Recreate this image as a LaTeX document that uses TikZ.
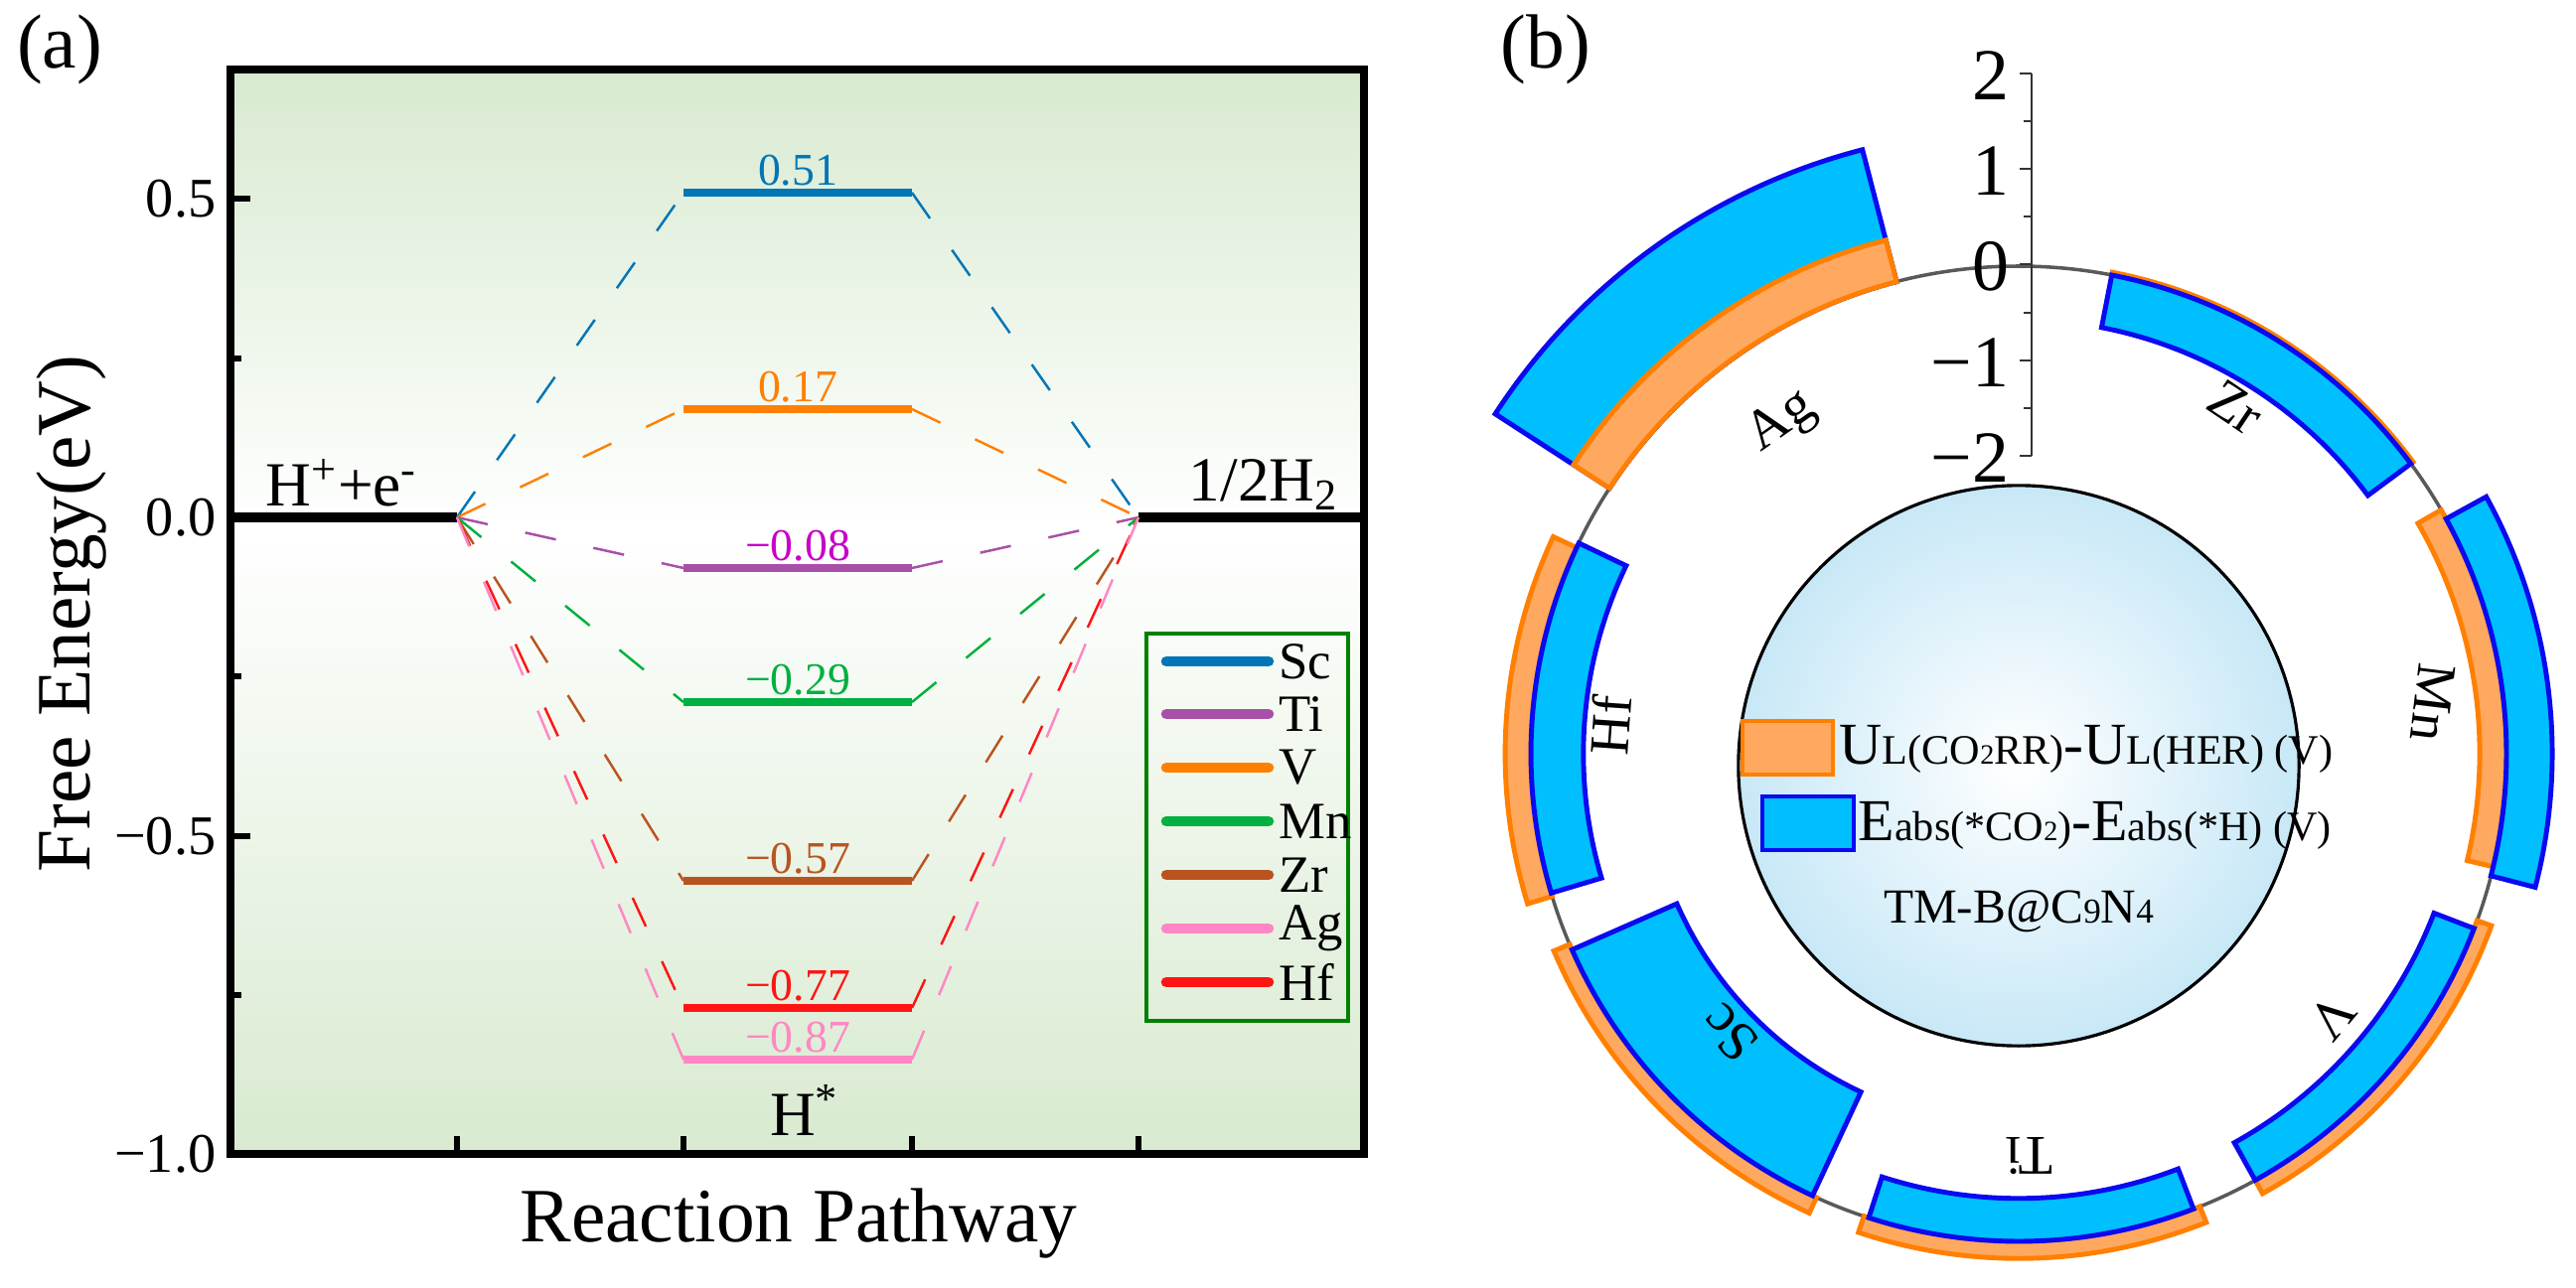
\documentclass[tikz,border=0pt]{standalone}
\usepackage{fontspec}
\setmainfont{Liberation Serif}
\usetikzlibrary{calc}
\definecolor{cSc}{RGB}{0,118,182}
\definecolor{cTi}{RGB}{168,80,168}
\definecolor{cTiL}{RGB}{200,0,200}
\definecolor{cV}{RGB}{255,128,0}
\definecolor{cMn}{RGB}{0,176,64}
\definecolor{cZr}{RGB}{185,84,32}
\definecolor{cAg}{RGB}{255,135,195}
\definecolor{cHf}{RGB}{255,20,20}
\definecolor{bgG}{RGB}{216,234,208}
\definecolor{blF}{RGB}{0,191,255}
\definecolor{blD}{RGB}{10,10,240}
\definecolor{orF}{RGB}{255,168,96}
\definecolor{orD}{RGB}{255,128,0}
\definecolor{ballB}{RGB}{200,232,247}
\newcommand\annsec[5]{%
  \pgfmathsetmacro\ra{491+96*(#4)}\pgfmathsetmacro\rb{491+96*(#5)}%
  \draw[#1] (#2:\ra) arc[start angle=#2,end angle=#3,radius=\ra] -- (#3:\rb) arc[start angle=#3,end angle=#2,radius=\rb] -- cycle;}
\begin{document}
\begin{tikzpicture}[x=0.01cm,y=-0.01cm,
  lvl/.style={line width=2.2pt},
  dsh/.style={line width=0.7pt,dash pattern=on 9pt off 11pt},
  vlab/.style={font=\fontsize{13}{13}\selectfont,anchor=south,inner sep=1pt},
  tlab/.style={font=\fontsize{16}{16}\selectfont,anchor=east,inner sep=2pt},
  leg/.style={font=\fontsize{15}{15}\selectfont,anchor=west,inner sep=1pt},
  legl/.style={line width=3pt,line cap=round},
  blue bar/.style={fill=blF,draw=blD,line width=1.4pt,line join=miter},
  orange bar/.style={fill=orF,draw=orD,line width=1.4pt,line join=miter},
  slab/.style={font=\fontsize{16}{16}\selectfont,inner sep=0pt},
  rtick/.style={font=\fontsize{21}{21}\selectfont,anchor=east,inner sep=2pt}]
\useasboundingbox (0,0) rectangle (2593,1297);
% ---------- panel (a) ----------
\shade[top color=bgG,bottom color=white] (232,70) rectangle (1373,535);
\shade[top color=white,bottom color=bgG] (232,535) rectangle (1373,1162);
\node[font=\fontsize{22}{22}\selectfont] (pa) at (60,50) {(a)};
% ticks
\foreach \yy in {200,521,842} \draw[line width=1.6pt] (232,\yy) -- (252,\yy);
\foreach \yy in {361,681,1002} \draw[line width=1.6pt] (232,\yy) -- (243,\yy);
\foreach \xx in {460,688,918,1146} \draw[line width=1.6pt] (\xx,1162) -- (\xx,1144);
\node[tlab] (t1) at (225,200) {0.5};
\node[tlab] (t2) at (225,521) {0.0};
\node[tlab] (t3) at (225,842) {−0.5};
\node[tlab] (t4) at (225,1162) {−1.0};
\node[rotate=90,font=\fontsize{22}{22}\selectfont] (yl) at (72,618) {Free Energy(eV)};
\node[font=\fontsize{22}{22}\selectfont] (xl) at (804,1232) {Reaction Pathway};
% levels
\coordinate (L0) at (232,521); \coordinate (L1) at (460,521);
\coordinate (R1) at (1146,521); \coordinate (R0) at (1373,521);
\draw[line width=2.8pt] (L0) -- (L1);
\draw[line width=2.8pt] (R1) -- (R0);
\node[font=\fontsize{18}{18}\selectfont] (hp) at (344,486) {H\textsuperscript{+}+e\textsuperscript{-}};
\node[font=\fontsize{18}{18}\selectfont] (hh) at (1272,488) {1/2H\textsubscript{2}};
\node[font=\fontsize{18}{18}\selectfont] (hs) at (810,1118) {H\textsuperscript{*}};
\foreach \n/\yy/\c/\lc/\txt in {Sc/194/cSc/cSc/0.51, V/412/cV/cV/0.17, Ti/572/cTi/cTiL/−0.08, Mn/707/cMn/cMn/−0.29, Zr/887/cZr/cZr/−0.57, Hf/1015/cHf/cHf/−0.77, Ag/1067/cAg/cAg/−0.87}{
  \coordinate (a\n) at (688,\yy); \coordinate (b\n) at (918,\yy);
  \draw[dsh,\c] (L1) -- (a\n);
  \draw[dsh,\c] (b\n) -- (R1);
  \draw[lvl,\c] (a\n) -- (b\n);
  \node[vlab,text=\lc] (v\n) at (803,\yy-3) {\txt};
}
% legend
\draw[draw=green!50!black,line width=1.3pt] (1154,638) rectangle (1357,1028);
\foreach \n/\yy/\c in {Sc/666/cSc, Ti/719/cTi, V/773/cV, Mn/827/cMn, Zr/881/cZr, Ag/935/cAg, Hf/989/cHf}{
  \coordinate (g\n) at (1174,\yy); \coordinate (h\n) at (1277,\yy);
  \draw[legl,\c] (g\n) -- (h\n);
  \node[leg] (l\n) at (1283,\yy) {\n};
}
\draw[line width=2.4pt] (232,70) rectangle (1373,1162);
% ---------- panel (b) ----------
\node[font=\fontsize{22}{22}\selectfont] (pb) at (1556,50) {(b)};
\node[circle,draw=black,line width=0.9pt,minimum size=5.64cm,inner sep=0pt,inner color=white,outer color=ballB] (ball) at (2032,771) {};
\begin{scope}[shift={(2032,759)},yscale=-1]
  \draw[gray!70!black,line width=1pt] (0,0) circle[radius=491];
  % Ag
  \annsec{blue bar}{104.5}{147}{0}{1.43}
  \annsec{orange bar}{104.5}{147}{0}{0.45}
  % Zr
  \annsec{orange bar}{79}{36.5}{0}{0.03}
  \annsec{blue bar}{79}{36.5}{0}{-0.56}
  % Mn
  \annsec{orange bar}{30}{-13.4}{0}{-0.28}
  \annsec{blue bar}{28.8}{-14.5}{0}{0.48}
  % V
  \annsec{orange bar}{-20}{-61}{0}{0.16}
  \annsec{blue bar}{-21}{-61}{0}{-0.45}
  % Ti
  \annsec{orange bar}{-68.2}{-108.5}{0}{0.18}
  \annsec{blue bar}{-69}{-107.9}{0}{-0.45}
  % Sc
  \annsec{orange bar}{245.5}{203}{0}{0.18}
  \annsec{blue bar}{245}{203.7}{0}{-1.2}
  % Hf
  \annsec{orange bar}{155}{197}{0}{0.27}
  \annsec{blue bar}{154.4}{196.6}{0}{-0.55}
  % labels
  \node[slab,rotate=35] (sAg) at (125.5:410) {Ag};
  \node[slab,rotate=-34] (sZr) at (58:412) {Zr};
  \node[slab,rotate=-97] (sMn) at (7:420) {Mn};
  \node[slab,rotate=-130] (sV) at (-40:412) {V};
  \node[slab,rotate=180] (sTi) at (-88.5:405) {Ti};
  \node[slab,rotate=134] (sSc) at (224:405) {Sc};
  \node[slab,rotate=86] (sHf) at (176:412) {Hf};
\end{scope}
% radial axis
\coordinate (ax1) at (2045,74); \coordinate (ax2) at (2045,459);
\draw[line width=0.8pt,gray!40!black] (ax1) -- (ax2);
\foreach \yy in {74,170,266,363,459} \draw[line width=0.8pt,gray!40!black] (2045,\yy) -- (2033,\yy);
\foreach \yy in {122,218,315,411} \draw[line width=0.8pt,gray!40!black] (2045,\yy) -- (2037,\yy);
\node[rtick] (r2) at (2030,76) {2};
\node[rtick] (r1) at (2030,172) {1};
\node[rtick] (r0) at (2030,268) {0};
\node[rtick] (rm1) at (2030,365) {−1};
\node[rtick] (rm2) at (2030,461) {−2};
% legend inside ball
\draw[orange bar] (1754,726) rectangle (1845,780);
\node[anchor=west,inner sep=0pt,font=\fontsize{17}{17}\selectfont] (k1) at (1851,754) {U{\fontsize{12}{12}\selectfont L(CO{\fontsize{8}{8}\selectfont 2}RR)}-U{\fontsize{12}{12}\selectfont L(HER) (V)}};
\draw[blue bar] (1774,802) rectangle (1866,856);
\node[anchor=west,inner sep=0pt,font=\fontsize{17}{17}\selectfont] (k2) at (1870,831) {E{\fontsize{12}{12}\selectfont abs(*CO{\fontsize{8}{8}\selectfont 2})}-E{\fontsize{12}{12}\selectfont abs(*H) (V)}};
\node[font=\fontsize{14}{14}\selectfont,inner sep=0pt] (k3) at (2032,918) {TM-B@C{\fontsize{10}{10}\selectfont 9}N{\fontsize{10}{10}\selectfont 4}};
\end{tikzpicture}
\end{document}
